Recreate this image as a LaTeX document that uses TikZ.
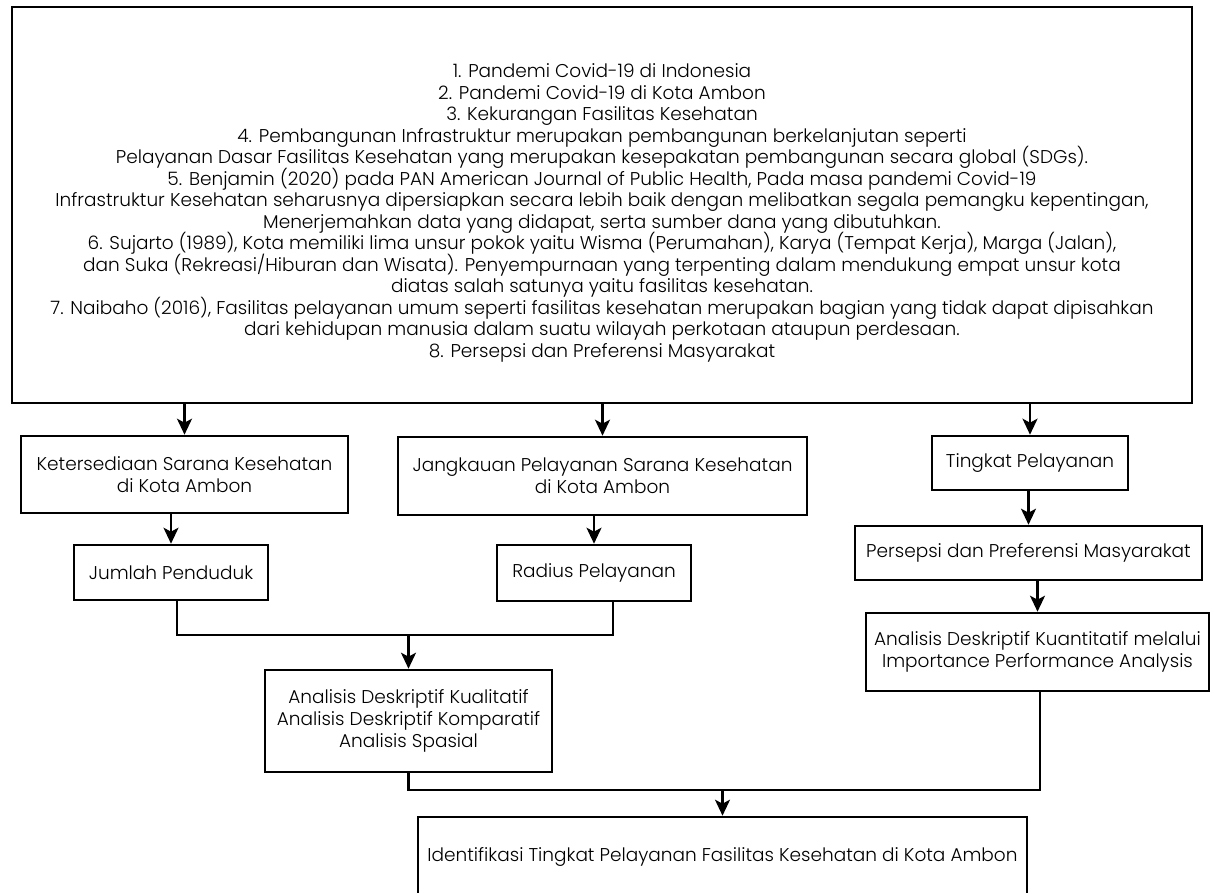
\documentclass[tikz,border=0pt]{standalone}
\usepackage{fontspec}
\setmainfont{Poppins}[UprightFont=* Light]
\usetikzlibrary{arrows.meta}

\newcommand{\rapat}{\lineskiplimit -20pt\relax}

\tikzstyle{kotak} = [
    rectangle,
    draw=black,
    line width=2.6pt,
    align=center,
    inner sep=0pt,
    font=\fontsize{18.5}{22}\selectfont\rapat
]
\tikzstyle{garis} = [line width=2.3pt]
\tikzstyle{arrow} = [garis,-{Stealth[length=16pt,width=15pt,inset=4pt]}]

\begin{document}
\begin{tikzpicture}[x=1pt,y=-1pt]
\useasboundingbox (0,0) rectangle (1212,893);

\node (latar) [kotak, minimum width=1180pt, minimum height=396pt,
    font=\fontsize{18.5}{21.5}\selectfont\rapat] at (602,205)
{\rule{0pt}{30pt}1. Pandemi Covid-19 di Indonesia\\
2. Pandemi Covid-19 di Kota Ambon\\
3. Kekurangan Fasilitas Kesehatan\\
4. Pembangunan Infrastruktur merupakan pembangunan berkelanjutan seperti\\
Pelayanan Dasar Fasilitas Kesehatan yang merupakan kesepakatan pembangunan secara global (SDGs).\\
5. Benjamin (2020) pada PAN American Journal of Public Health, Pada masa pandemi Covid-19\\
Infrastruktur Kesehatan seharusnya dipersiapkan secara lebih baik dengan melibatkan segala pemangku kepentingan,\\
Menerjemahkan data yang didapat, serta sumber dana yang dibutuhkan.\\
6. Sujarto (1989), Kota memiliki lima unsur pokok yaitu Wisma (Perumahan), Karya (Tempat Kerja), Marga (Jalan),\\
dan Suka (Rekreasi/Hiburan dan Wisata). Penyempurnaan yang terpenting dalam mendukung empat unsur kota\\
diatas salah satunya yaitu fasilitas kesehatan.\\
7. Naibaho (2016), Fasilitas pelayanan umum seperti fasilitas kesehatan merupakan bagian yang tidak dapat dipisahkan\\
dari kehidupan manusia dalam suatu wilayah perkotaan ataupun perdesaan.\\
8. Persepsi dan Preferensi Masyarakat};

\node (ketersediaan) [kotak, minimum width=327pt, minimum height=77pt] at (184.5,474.5)
{Ketersediaan Sarana Kesehatan\\ di Kota Ambon};

\node (jangkauan) [kotak, minimum width=409pt, minimum height=78pt] at (602.5,476)
{Jangkauan Pelayanan Sarana Kesehatan\\ di Kota Ambon};

\node (tingkat) [kotak, minimum width=196pt, minimum height=54pt] at (1030,463)
{Tingkat Pelayanan};

\node (jumlah) [kotak, minimum width=194pt, minimum height=55pt] at (171,572.5)
{Jumlah Penduduk};

\node (radius) [kotak, minimum width=194pt, minimum height=56pt] at (594,573)
{Radius Pelayanan};

\node (persepsi) [kotak, minimum width=347pt, minimum height=54pt] at (1028.5,553)
{Persepsi dan Preferensi Masyarakat};

\node (ipa) [kotak, minimum width=343pt, minimum height=78pt] at (1037.5,652)
{Analisis Deskriptif Kuantitatif melalui\\ Importance Performance Analysis};

\node (analisis) [kotak, minimum width=287pt, minimum height=102pt] at (408.5,721)
{Analisis Deskriptif Kualitatif\\ Analisis Deskriptif Komparatif\\ Analisis Spasial};

\node (identifikasi) [kotak, minimum width=609pt, minimum height=80pt] at (722.5,857)
{Identifikasi Tingkat Pelayanan Fasilitas Kesehatan di Kota Ambon};

\coordinate (gabung1) at (408.5,635);
\coordinate (gabung2) at (722.5,790);

\draw [arrow] (latar.south -| ketersediaan.north) -- (ketersediaan.north);
\draw [arrow] (latar.south -| jangkauan.north) -- (jangkauan.north);
\draw [arrow] (latar.south -| tingkat.north) -- (tingkat.north);
\draw [arrow] (ketersediaan.south -| jumlah.north) -- (jumlah.north);
\draw [arrow] (jangkauan.south -| radius.north) -- (radius.north);
\draw [arrow] (tingkat.south -| persepsi.north) -- (persepsi.north);
\draw [arrow] (persepsi.south -| ipa.north) -- (ipa.north);

\draw [garis] ([xshift=6pt]jumlah.south) |- (gabung1) -| ([xshift=19pt]radius.south);
\draw [arrow] (gabung1) -- (analisis.north);

\draw [garis] (analisis.south) |- (gabung2) -| ([xshift=2.5pt]ipa.south);
\draw [arrow] (gabung2) -- (identifikasi.north);

\end{tikzpicture}
\end{document}
